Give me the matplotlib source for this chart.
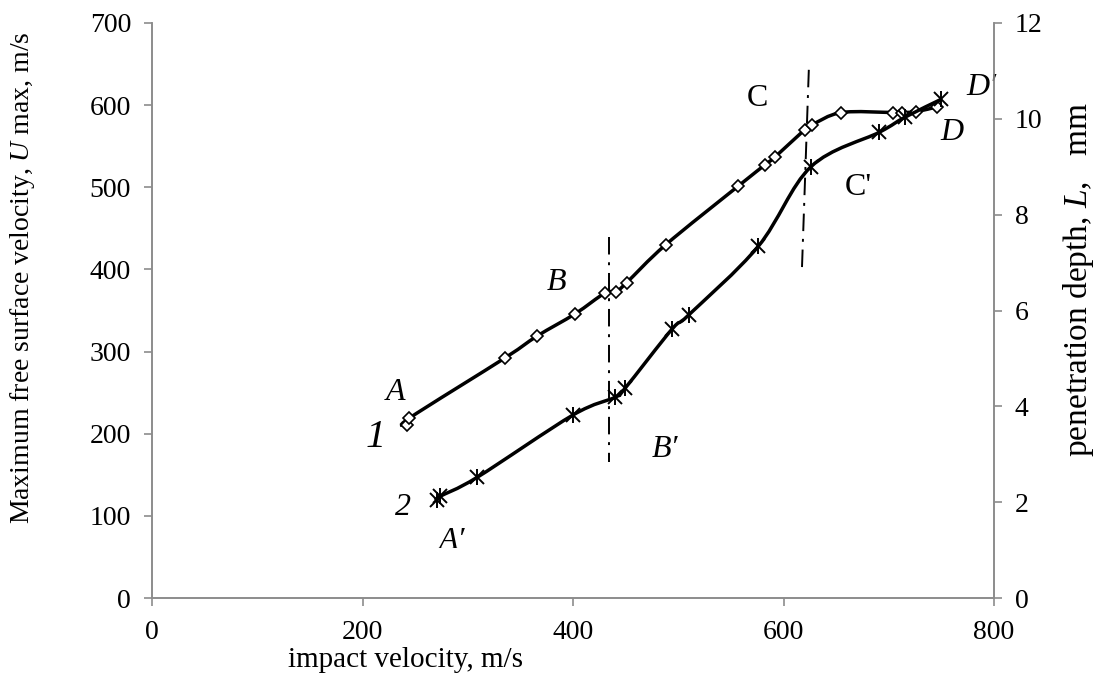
import matplotlib
matplotlib.use("Agg")
import matplotlib.pyplot as plt
from matplotlib.path import Path
from matplotlib.patches import PathPatch, Rectangle
import numpy as np

plt.rcParams['font.family'] = ['Liberation Serif', 'DejaVu Serif']
plt.rcParams['mathtext.fontset'] = 'custom'
plt.rcParams['mathtext.rm'] = 'Liberation Serif'
plt.rcParams['mathtext.it'] = 'Liberation Serif:italic'

# Series 1: maximum free surface velocity (left axis), diamonds
v1 = [242, 244.5, 335, 366, 402, 430, 441, 451, 488, 556.5, 582, 592, 620, 627, 655, 704, 713, 726, 746]
u1 = [211, 219, 292, 319, 346, 371, 373, 384, 430, 501, 527, 537, 570, 576, 591, 591, 591, 592, 598]

# Series 2: penetration depth (right axis), stars
v2 = [271, 273.5, 309, 400, 440, 449.5, 494, 510, 576, 626, 691, 715, 750]
l2 = [2.05, 2.12, 2.52, 3.82, 4.19, 4.38, 5.61, 5.91, 7.34, 9.0, 9.72, 10.03, 10.41]

# Dash-dot separators (x, y in left-axis units)
sepB_x = [434.5, 434.5]
sepB_y = [440, 165]
sepC_x = [624, 617.5]
sepC_y = [643, 402]

x_ticks = [0, 200, 400, 600, 800]
y1_ticks = [0, 100, 200, 300, 400, 500, 600, 700]
y2_ticks = [0, 2, 4, 6, 8, 10, 12]


def smooth_path(xs, ys):
    pts = np.column_stack([xs, ys]).astype(float)
    n = len(pts)
    verts = [pts[0]]
    codes = [Path.MOVETO]
    for i in range(n - 1):
        p0 = pts[i - 1] if i > 0 else pts[i]
        p1 = pts[i]
        p2 = pts[i + 1]
        p3 = pts[i + 2] if i + 2 < n else pts[i + 1]
        c1 = p1 + (p2 - p0) / 6.0
        c2 = p2 - (p3 - p1) / 6.0
        verts += [c1, c2, p2]
        codes += [Path.CURVE4] * 3
    return Path(verts, codes)


fig = plt.figure(figsize=(10.96, 6.84), dpi=100)
ax = fig.add_axes([0.1387, 0.1257, 0.907 - 0.1387, 0.9664 - 0.1257])
ax2 = ax.twinx()

gray = '#8c8c8c'
for a in (ax, ax2):
    a.spines['top'].set_visible(False)
    for s in ('left', 'right', 'bottom'):
        a.spines[s].set_color(gray)
        a.spines[s].set_linewidth(1.2)
    a.tick_params(colors='black', labelsize=20, length=6, width=1.2, color=gray)

ax.set_xlim(0, 800)
ax.set_ylim(0, 700)
ax2.set_ylim(0, 12)
ax.set_xticks(x_ticks)
ax.set_yticks(y1_ticks)
ax2.set_yticks(y2_ticks)
ax.tick_params(axis='x', pad=10)
ax.tick_params(axis='y', pad=9)
ax2.tick_params(axis='y', pad=9)

# series 1
ax.add_patch(PathPatch(smooth_path(v1, u1), facecolor='none', edgecolor='black',
                       lw=2.5, transform=ax.transData, zorder=3))
ax.plot(v1, u1, linestyle='none', marker='D', markersize=6.5, markerfacecolor='white',
        markeredgecolor='black', markeredgewidth=1.2, zorder=4)

# series 2
ax2.add_patch(PathPatch(smooth_path(v2, l2), facecolor='none', edgecolor='black',
                        lw=2.5, transform=ax2.transData, zorder=3))
ax2.plot(v2, l2, linestyle='none', marker='x', markersize=9.5, markeredgecolor='black',
         markeredgewidth=1.4, zorder=4)
ax2.plot(v2, l2, linestyle='none', marker='|', markersize=12, markeredgecolor='black',
         markeredgewidth=1.4, zorder=4)

# separators
for xs, ys in ((sepB_x, sepB_y), (sepC_x, sepC_y)):
    ax.plot(xs, ys, color='black', lw=1.4, dashes=(9, 4, 1.5, 4), zorder=2)

# annotations
fs = 23
ax.text(231, 250, 'A', fontsize=fs, style='italic', ha='center', va='center')
ax.text(212, 196, '1', fontsize=29, style='italic', ha='center', va='center')
ax.text(238, 110, '2', fontsize=fs, style='italic', ha='center', va='center')
tA = ax.text(285, 69, "A\u2032", fontsize=fs, style='italic', ha='center', va='center')
clip = Rectangle((0, 61), 800, 700, transform=ax.transData, visible=False)
ax.add_patch(clip)
tA.set_clip_on(True)
tA.set_clip_path(clip)
ax.text(384, 384, 'B', fontsize=fs, style='italic', ha='center', va='center')
ax.text(487, 181, "B\u2032", fontsize=fs, style='italic', ha='center', va='center')
ax.text(575, 608, 'C', fontsize=fs, ha='center', va='center')
ax.text(671, 500, "C'", fontsize=fs, ha='center', va='center')
ax.text(788, 622, "D\u2032", fontsize=fs, style='italic', ha='center', va='center')
ax.text(760, 567, 'D', fontsize=fs, style='italic', ha='center', va='center')

fig.text(405 / 1096, 1 - 660 / 684, 'impact velocity, m/s', fontsize=21,
         ha='center', va='center')
fig.text(23 / 1096, 1 - 278 / 684, 'Maximum free surface velocity, $\\mathit{U}$ max, m/s',
         fontsize=20, rotation=90, ha='center', va='center')
fig.text(1079 / 1096, 1 - 280 / 684, 'penetration depth, $\\mathit{L}$,   mm',
         fontsize=24, rotation=90, ha='center', va='center')

fig.savefig('out.png', dpi=100)
